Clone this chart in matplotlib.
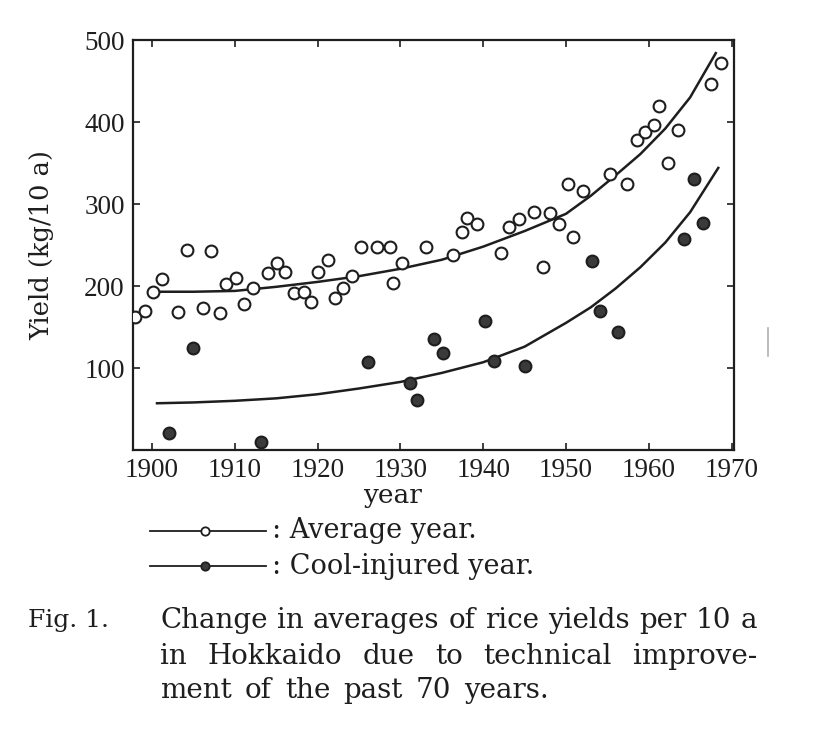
import matplotlib
matplotlib.use("Agg")
import matplotlib.pyplot as plt
from matplotlib.lines import Line2D

plt.rcParams['font.family'] = ['Liberation Serif', 'DejaVu Serif']

# Average years (open circles)
avg_years = [1898.0, 1899.2, 1900.1, 1901.2, 1903.1, 1904.2, 1906.1, 1907.1, 1908.2, 1908.9,
             1910.2, 1911.1, 1912.2, 1914.0, 1915.1, 1916.1, 1917.2, 1918.4, 1919.2, 1920.1,
             1921.2, 1922.1, 1923.1, 1924.2, 1925.2, 1927.2, 1928.7, 1929.1, 1930.2, 1933.1,
             1936.4, 1937.4, 1938.1, 1939.3, 1942.2, 1943.1, 1944.3, 1946.2, 1947.2, 1948.1,
             1949.2, 1950.2, 1950.9, 1952.1, 1955.3, 1957.4, 1958.6, 1959.6, 1960.6, 1961.3,
             1962.3, 1963.5, 1967.5, 1968.7]
avg_yield = [162, 170, 193, 209, 168, 244, 173, 243, 167, 202,
             210, 178, 198, 216, 228, 217, 191, 193, 180, 217,
             232, 185, 198, 212, 248, 248, 248, 204, 228, 248,
             238, 266, 283, 276, 240, 272, 282, 290, 223, 289,
             276, 324, 260, 316, 337, 324, 378, 388, 396, 420,
             350, 390, 446, 472]

# Cool-injured years (filled circles)
cool_years = [1902.0, 1905.0, 1913.2, 1926.1, 1931.2, 1932.0, 1934.1, 1935.2, 1940.2,
              1941.3, 1945.1, 1953.1, 1954.1, 1956.3, 1964.3, 1965.5, 1966.6]
cool_yield = [21, 124, 10, 107, 82, 61, 135, 118, 157,
              109, 102, 230, 170, 144, 257, 330, 277]

# Trend curves
trend_avg_years = [1901, 1905, 1910, 1915, 1920, 1925, 1930, 1935, 1940, 1945,
                   1950, 1953, 1956, 1959, 1962, 1965, 1968.1]
trend_avg = [193, 193, 194, 199, 205, 212, 221, 232, 248, 267,
             288, 310, 335, 361, 392, 430, 484]
trend_cool_years = [1900.6, 1905, 1910, 1915, 1920, 1925, 1930, 1935, 1940, 1945,
                    1950, 1953, 1956, 1959, 1962, 1965, 1968.4]
trend_cool = [57, 58, 60, 63, 68, 75, 83, 94, 107, 126,
              155, 174, 197, 223, 253, 290, 344]

xticks = [1900, 1910, 1920, 1930, 1940, 1950, 1960, 1970]
yticks = [100, 200, 300, 400, 500]

ink = '#1e1e1e'
text_font = 'DejaVu Serif'
tick_font = 'Liberation Serif'

fig = plt.figure(figsize=(8.18, 7.4), dpi=100)
ax = fig.add_axes([133 / 818, 1 - 450 / 740, (734 - 133) / 818, (450 - 40) / 740])

ax.plot(trend_avg_years, trend_avg, color=ink, lw=1.8, zorder=2)
ax.plot(trend_cool_years, trend_cool, color=ink, lw=1.8, zorder=2)
ax.plot(avg_years, avg_yield, 'o', ms=8.5, mfc='white', mec=ink, mew=1.5, zorder=3)
ax.plot(cool_years, cool_yield, 'o', ms=8.5, mfc='#3a3a3a', mec=ink, mew=1.5, zorder=3)

ax.set_xlim(1897.7, 1970.3)
ax.set_ylim(0, 500)
ax.set_xticks(xticks)
ax.set_yticks(yticks)
ax.tick_params(direction='in', length=5, width=1.2, top=True, right=True,
               labelsize=19.5, colors=ink, pad=6)
for lab in ax.get_xticklabels() + ax.get_yticklabels():
    lab.set_family(tick_font)
for s in ax.spines.values():
    s.set_linewidth(1.6)
    s.set_color(ink)

ax.set_xlabel('year', fontsize=19, color=ink, family=text_font)
ax.xaxis.set_label_coords((393 - 133) / 601, -33 / 410)
ax.set_ylabel('Yield (kg/10 a)', fontsize=18.5, color=ink, family=text_font)
ax.yaxis.set_label_coords(-79 / 601, 0.5)

# legend drawn by hand below the axes
for y, face, label in [(1 - 531 / 740, 'white', ': Average year.'),
                       (1 - 566 / 740, '#3a3a3a', ': Cool-injured year.')]:
    fig.add_artist(Line2D([150 / 818, 266 / 818], [y, y], color=ink, lw=1.3,
                          transform=fig.transFigure))
    fig.add_artist(Line2D([205 / 818], [y], marker='o', ms=6, mfc=face, mec=ink, mew=1.3,
                          transform=fig.transFigure))
    fig.text(272 / 818, y, label, fontsize=19.5, color=ink, va='center', ha='left',
             family=text_font)

# caption, first two lines justified between x=160 and x=757
fig.text(28 / 818, 1 - 621 / 740, 'Fig. 1.', fontsize=18, color=ink, va='center',
         family=text_font)
caption = ['Change in averages of rice yields per 10 a',
           'in Hokkaido due to technical improve-',
           'ment of the past 70 years.']
renderer = fig.canvas.get_renderer()
x0, x1 = 160, 757
for i, line in enumerate(caption):
    y = 1 - (621 + 35 * i) / 740
    words = line.split()
    texts = [fig.text(0, y, w, fontsize=20, color=ink, va='center', family=text_font)
             for w in words]
    widths = [t.get_window_extent(renderer).width for t in texts]
    if i < 2:
        gap = (x1 - x0 - sum(widths)) / (len(words) - 1)
    else:
        gap = 13
    x = x0
    for t, w in zip(texts, widths):
        t.set_x(x / 818)
        x += w + gap

fig.add_artist(Line2D([768 / 818, 768 / 818], [1 - 328 / 740, 1 - 356 / 740],
                      color='#b0b0b0', lw=1.2, transform=fig.transFigure))

fig.savefig('out.png', dpi=100)
